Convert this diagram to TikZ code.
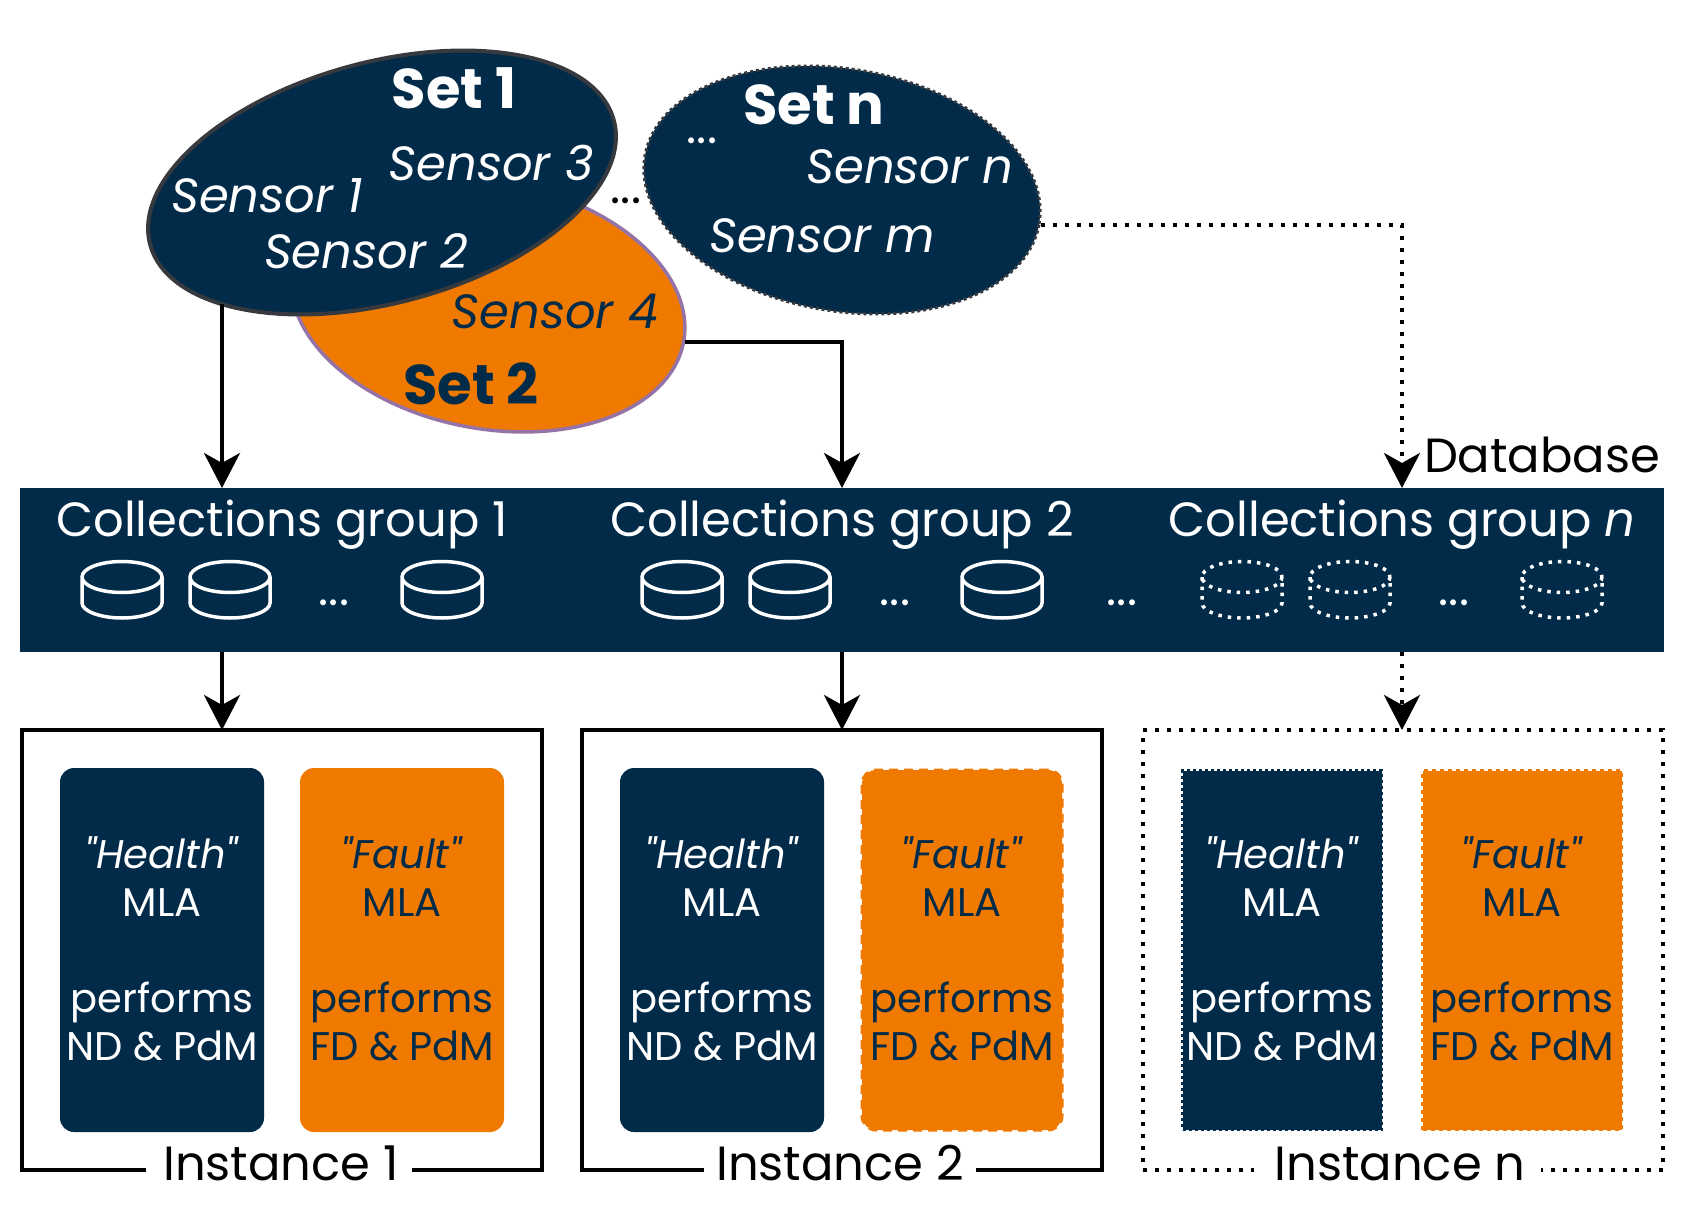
\documentclass[tikz,border=0pt]{standalone}
\usepackage{fontspec}
\setmainfont[Ligatures=TeXOff]{Poppins}
\usetikzlibrary{shapes.geometric,arrows.meta}
\definecolor{navy}{HTML}{022B49}
\definecolor{orng}{HTML}{F07A00}
\definecolor{edgegrey}{HTML}{36393D}
\definecolor{edgepurple}{HTML}{9673A6}
\newcommand{\healthtext}{\textit{"Health"}\\MLA\\[48pt]performs\\ND \& PdM\rule[-2pt]{0pt}{2pt}}
\newcommand{\faulttext}{\textit{"Fault"}\\MLA\\[48pt]performs\\FD \& PdM\rule[-2pt]{0pt}{2pt}}
\tikzset{
  every node/.style={inner sep=0pt,outer sep=0pt},
  wire/.style={draw=black,line width=4pt,-{Stealth[length=35pt,width=36pt,inset=10pt]}},
  dotwire/.style={wire,dash pattern=on 4pt off 8pt},
  setshape/.style={ellipse,fill=#1},
  lab/.style={anchor=base,font=\fontsize{48}{57}\selectfont},
  sensor/.style={lab,font=\fontsize{48}{57}\selectfont\itshape},
  settitle/.style={lab,font=\fontsize{56}{66}\selectfont\bfseries},
  instbox/.style={rectangle,draw=black,line width=4pt,minimum width=#1,minimum height=440pt},
  instdot/.style={draw=black,line width=4pt,dash pattern=on 4pt off 8pt,minimum height=440pt,minimum width=#1},
  mla/.style={rectangle,minimum width=204pt,minimum height=364pt,align=center,
     font=\fontsize{40}{48}\selectfont},
  healthbox/.style={mla,fill=navy,text=white},
  faultbox/.style={mla,fill=orng,text=navy},
  instlab/.style={anchor=base,fill=white,font=\fontsize{48}{57}\selectfont,minimum width=#1},
  cyl/.pic={
    \draw[white,line width=3.5pt,pic actions]
      (0,0) ellipse [x radius=40,y radius=15.5]
      (-40,0) -- (-40,26) .. controls (-40,34) and (-22,41) .. (0,41)
      .. controls (22,41) and (40,34) .. (40,26) -- (40,0);
  },
}
\begin{document}
\begin{tikzpicture}[x=1pt,y=-1pt]
\useasboundingbox (0,0) rectangle (1700,1228);
% sets
\node[setshape=orng,draw=edgepurple,line width=3.5pt,minimum width=398pt,minimum height=247pt,rotate=-10.8] (set2) at (488,305) {};
\node[setshape=navy,draw=edgegrey,line width=4pt,minimum width=480pt,minimum height=241pt,rotate=15] (set1) at (382,182.5) {};
\node[setshape=navy,draw=edgegrey,line width=3pt,dash pattern=on 3pt off 3pt,minimum width=400pt,minimum height=242pt,rotate=-9.75] (setn) at (842,190) {};
\node[settitle,text=white] (t1) at (454,109) {Set 1};
\node[sensor,text=white] (s3) at (491,180) {Sensor 3};
\node[sensor,text=white] (s1) at (267,212) {Sensor 1};
\node[sensor,text=white] (s2) at (366,268) {Sensor 2};
\node[sensor,text=navy] (s4) at (555,328) {Sensor 4};
\node[settitle,text=navy] (t2) at (471,404) {Set 2};
\node[settitle,text=white] (tn) at (814,125) {Set n};
\node[sensor,text=white] (sn) at (910,183.5) {Sensor n};
\node[sensor,text=white] (sm) at (822,252) {Sensor m};
\node[lab,text=white] (dotsa) at (702,144) {...};
\node[lab,text=black] (dotsb) at (626,204) {...};
% database
\node[rectangle,fill=navy,minimum width=1644pt,minimum height=164pt] (bar) at (842,570) {};
\node[lab] (db) at (1542,472) {Database};
\node[lab,text=white] (g1) at (282,536) {Collections group 1};
\node[lab,text=white] (g2) at (842,536) {Collections group 2};
\node[lab,text=white] (gn) at (1402,536) {Collections group \textit{n}};
\foreach \cx in {122,230,442,682,790,1002}{
  \pic at (\cx,577) {cyl};
}
\foreach \cx in {1242,1350,1562}{
  \pic[dash pattern=on 3.5pt off 6pt] at (\cx,577) {cyl};
}
\node[lab,text=white] (d1) at (334,605) {...};
\node[lab,text=white] (d2) at (895,605) {...};
\node[lab,text=white] (d3) at (1122,605) {...};
\node[lab,text=white] (d4) at (1454,605) {...};
% instances
\node[instbox=520pt] (inst1) at (282,950) {};
\node[instbox=520pt] (inst2) at (842,950) {};
\node[instdot=520pt] (instn) at (1402.5,950) {};
\node[healthbox,rounded corners=14pt] (h1) at (162,950) {\healthtext};
\node[faultbox,rounded corners=14pt] (f1) at (402,950) {\faulttext};
\node[healthbox,rounded corners=14pt] (h2) at (722,950) {\healthtext};
\node[faultbox,rounded corners=14pt,draw=orng,line width=3pt,dash pattern=on 9pt off 6pt,minimum width=200pt,minimum height=360pt] (f2) at (962,950) {\faulttext};
\node[healthbox,draw=navy,line width=3pt,dash pattern=on 3pt off 3pt,minimum width=199pt,minimum height=359pt] (hn) at (1282,950) {\healthtext};
\node[faultbox,draw=orng,line width=3pt,dash pattern=on 4pt off 4pt,minimum width=199pt,minimum height=359pt] (fn) at (1522,950) {\faulttext};
\node[instlab=266pt] (l1) at (279,1180) {\hspace*{4pt}Instance 1};
\node[instlab=272pt] (l2) at (840,1180) {Instance 2};
\node[instlab=287pt] (ln) at (1397,1180) {\hspace*{6pt}Instance n};
% connectors
\coordinate (out1) at (222,304);
\coordinate (out2) at (685,342);
\coordinate (outn) at (1041,225);
\coordinate (col2) at (842,342);
\coordinate (coln) at (1402,225);
\draw[wire] (out1) -- (out1 |- bar.north);
\draw[wire] (out2) -- (col2) -- (col2 |- bar.north);
\draw[dotwire] (outn) -- (coln) -- (coln |- bar.north);
\draw[wire] (out1 |- bar.south) -- (out1 |- inst1.north);
\draw[wire] (col2 |- bar.south) -- (col2 |- inst2.north);
\draw[dotwire] (coln |- bar.south) -- (coln |- instn.north);
\end{tikzpicture}
\end{document}
